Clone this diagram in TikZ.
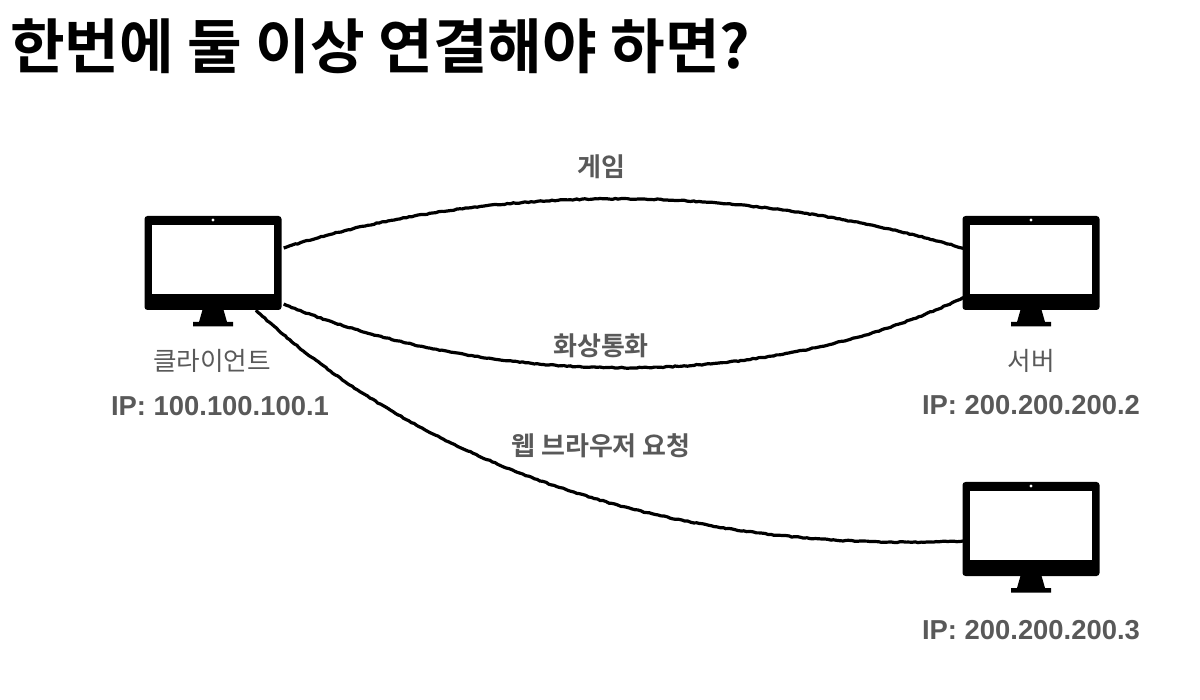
\documentclass[tikz,border=0pt]{standalone}
\usepackage{fontspec}
\setmainfont{Noto Sans CJK KR}[BoldFont={Noto Sans CJK KR Bold}]
\newfontfamily\latinb{Liberation Sans}[BoldFont={Liberation Sans Bold}]
\usetikzlibrary{decorations.pathmorphing}
\definecolor{lab}{RGB}{89,89,89}
\tikzset{
  monbody/.style={draw=none,fill=black,rounded corners=3pt,minimum width=137pt,minimum height=94pt,inner sep=0pt},
  monscreen/.style={draw=none,fill=white,minimum width=122pt,minimum height=69pt,inner sep=0pt},
  mondot/.style={circle,fill=white,minimum size=3.2pt,inner sep=0pt},
  wire/.style={line width=3.2pt,black,decorate,decoration={random steps,segment length=3pt,amplitude=.5pt}},
  lbl/.style={text=lab,font=\fontsize{26}{26}\selectfont\bfseries,inner sep=0pt},
  lblthin/.style={text=lab,font=\fontsize{25.6}{25.6}\selectfont,inner sep=0pt},
  iplbl/.style={text=lab,font=\latinb\fontsize{27.4}{27.4}\selectfont\bfseries,inner sep=0pt},
  pics/monitor/.style={code={
    \fill[black] (-10,45) -- (10,45) -- (14,59) -- (20,59) -- (20,63.5) -- (-20,63.5) -- (-20,59) -- (-14,59) -- cycle;
  }}
}
\begin{document}
\begin{tikzpicture}[x=1pt,y=-1pt]
\useasboundingbox (0,0) rectangle (1200,700);
\node[anchor=west,inner sep=0pt,font=\fontsize{59.4}{60}\selectfont\bfseries] (title) at (10,46) {한번에 둘 이상 연결해야 하면?};
% monitors
\pic at (213,263) {monitor};
\node[monbody] (client) at (213,263) {};
\node[monscreen] (cscr) at (213,259.5) {};
\node[mondot] (cdot) at (213,220) {};
\pic at (1031,263) {monitor};
\node[monbody] (server) at (1031,263) {};
\node[monscreen] (sscr) at (1031,259.5) {};
\node[mondot] (sdot) at (1031,220) {};
\pic at (1031,529) {monitor};
\node[monbody] (third) at (1031,529) {};
\node[monscreen] (tscr) at (1031,525.5) {};
\node[mondot] (tdot) at (1031,486) {};
% connectors
\draw[wire] ([xshift=2pt,yshift=15pt]client.east) .. controls (480,185) and (730,180) .. ([yshift=15pt]server.west);
\draw[wire] ([xshift=2pt,yshift=-41pt]client.east) .. controls (480,385) and (760,395) .. ([yshift=-35pt]server.west);
\draw[wire] ([xshift=43pt]client.south) .. controls (400,445) and (640,555) .. ([yshift=-12pt]third.west);
% labels
\node[lbl] (game) at (601,167) {게임};
\node[lbl] (video) at (601,346) {화상통화};
\node[lbl] (web) at (601,446) {웹 브라우저 요청};
\node[lblthin] (cname) at (212,361) {클라이언트};
\node[lblthin] (sname) at (1031,361) {서버};
\node[iplbl] (cip) at (220,406) {IP: 100.100.100.1};
\node[iplbl] (sip) at (1031,405) {IP: 200.200.200.2};
\node[iplbl] (tip) at (1031,630) {IP: 200.200.200.3};
\end{tikzpicture}
\end{document}
